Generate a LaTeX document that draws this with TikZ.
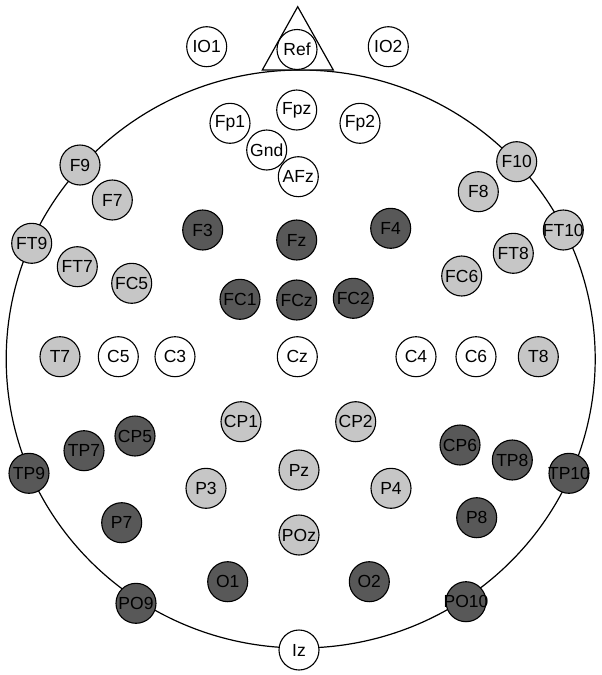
\documentclass[tikz,border=0pt]{standalone}
\usepackage{fontspec}
\setmainfont{Liberation Sans}
\definecolor{darkel}{RGB}{88,88,88}
\definecolor{lightel}{RGB}{198,198,198}
\newcommand\eltxt[1]{\makebox[0pt]{#1}}
\tikzset{
  el/.style={circle, draw=black, line width=1.1pt, minimum size=40pt, inner sep=0pt,
    font=\fontsize{17.5}{17.5}\selectfont, text=black},
  wel/.style={el, fill=white},
  lel/.style={el, fill=lightel},
  del/.style={el, fill=darkel},
  headline/.style={draw=black, line width=1.2pt}
}
\begin{document}
\begin{tikzpicture}[x=1pt,y=-1pt]
\useasboundingbox (0,0) rectangle (602,675);
% head
\draw[headline] (300.7,359) ellipse [x radius=294.5, y radius=289];
% nose / reference triangle
\coordinate (triL) at (262.3,70);
\coordinate (triR) at (333.3,70);
\coordinate (triT) at (297.7,6.7);
\draw[headline, fill=white] (triL) -- (triT) -- (triR) -- cycle;
% white electrodes
\node[wel] (IO1) at (206.7,46.7) {IO1};
\node[wel] (Ref) at (297,49.5) {Ref};
\node[wel] (IO2) at (388.3,46.7) {IO2};
\node[wel] (Fpz) at (296.7,110) {Fpz};
\node[wel] (Fp1) at (230,123.3) {Fp1};
\node[wel] (Fp2) at (360,123.3) {Fp2};
\node[wel] (Gnd) at (266.7,150) {Gnd};
\node[wel] (AFz) at (298.3,176.7) {AFz};
\node[wel] (C5) at (118.3,356.7) {C5};
\node[wel] (C3) at (175,356.7) {C3};
\node[wel] (Cz) at (297.3,356.7) {Cz};
\node[wel] (C4) at (416,356.7) {C4};
\node[wel] (C6) at (476,356.7) {C6};
\node[wel] (Iz) at (299,650) {Iz};
% light electrodes
\node[lel] (F9) at (80,165) {F9};
\node[lel] (F7) at (112.3,200) {F7};
\node[lel] (FT9) at (31.7,243.3) {FT9};
\node[lel] (FT7) at (77.3,266.7) {FT7};
\node[lel] (FC5) at (131.7,283.3) {FC5};
\node[lel] (F10) at (516.7,161.7) {F10};
\node[lel] (F8) at (478.3,191.7) {F8};
\node[lel] (FT10) at (563.3,230) {\eltxt{FT10}};
\node[lel] (FT8) at (513.3,253.3) {FT8};
\node[lel] (FC6) at (461.7,276) {FC6};
\node[lel] (T7) at (60,356.7) {T7};
\node[lel] (T8) at (538.3,356.7) {T8};
\node[lel] (CP1) at (241,421.7) {CP1};
\node[lel] (CP2) at (355.7,421.7) {CP2};
\node[lel] (Pz) at (299,470) {Pz};
\node[lel] (P3) at (206,488.3) {P3};
\node[lel] (P4) at (391,488.3) {P4};
\node[lel] (POz) at (299,535) {POz};
% dark electrodes
\node[del] (F3) at (202.7,230) {F3};
\node[del] (Fz) at (296.7,240) {Fz};
\node[del] (F4) at (390.7,228.3) {F4};
\node[del] (FC1) at (240,299.3) {FC1};
\node[del] (FCz) at (296.7,300) {FCz};
\node[del] (FC2) at (353.3,298.3) {FC2};
\node[del] (O1) at (227.7,581.7) {O1};
\node[del] (O2) at (369.3,581.7) {O2};
\node[del] (TP9) at (29,473.3) {TP9};
\node[del] (TP7) at (84,450.7) {TP7};
\node[del] (CP5) at (135,436) {CP5};
\node[del] (P7) at (121.7,522.7) {P7};
\node[del] (PO9) at (136,603.3) {PO9};
\node[del] (CP6) at (460,445) {CP6};
\node[del] (TP8) at (512.3,460) {TP8};
\node[del] (TP10) at (569,473.3) {\eltxt{TP10}};
\node[del] (P8) at (476.7,517.7) {P8};
\node[del] (PO10) at (466,601.7) {\eltxt{PO10}};
\end{tikzpicture}
\end{document}
